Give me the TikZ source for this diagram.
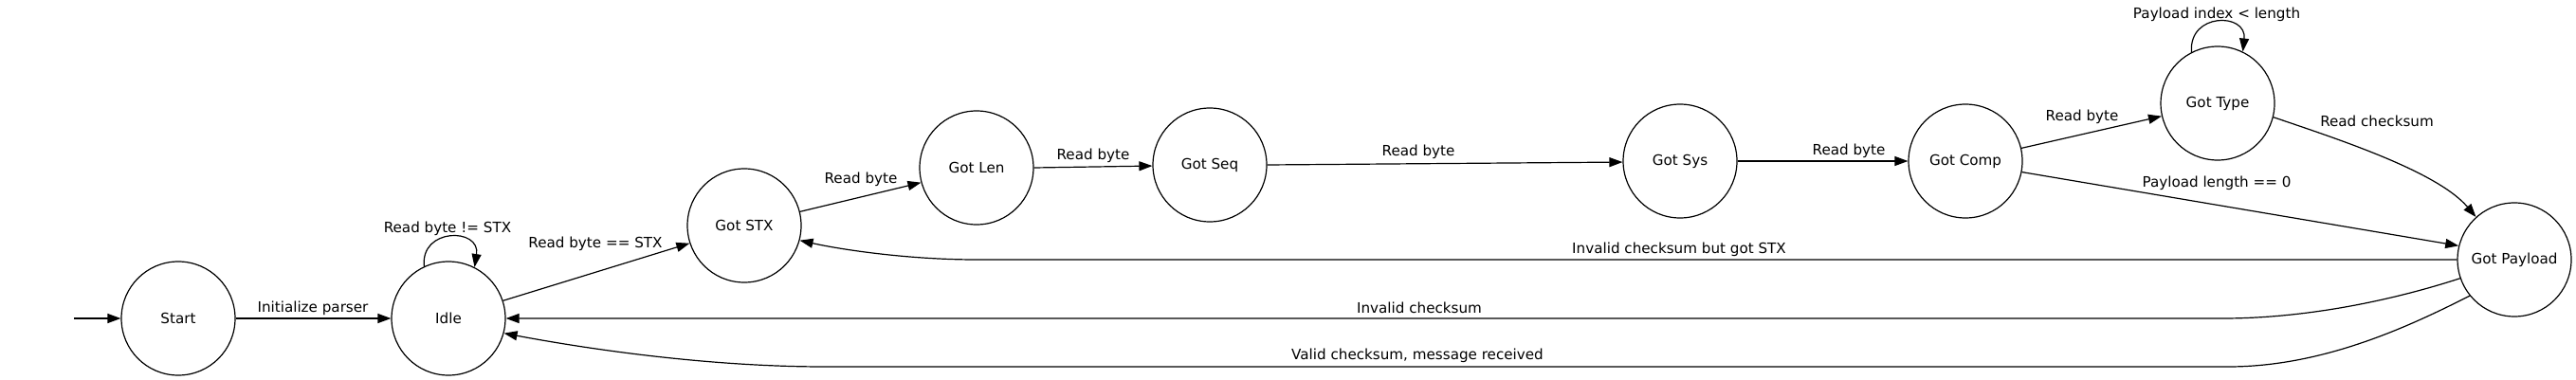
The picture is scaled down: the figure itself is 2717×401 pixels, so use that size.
\documentclass[tikz,border=0pt]{standalone}
\usepackage{fontspec}
\setmainfont{DejaVu Sans}
\usetikzlibrary{arrows.meta}
\begin{document}
\begin{tikzpicture}[x=0.5pt,y=-0.5pt,
  st/.style={draw, circle, minimum size=60pt, inner sep=0pt, line width=0.6pt, font=\fontsize{7.58}{9}\selectfont},
  lbl/.style={inner sep=0pt, font=\fontsize{7.58}{9}\selectfont},
  tr/.style={draw, line width=0.6pt, -{Triangle[length=7pt,width=5pt]}},
]
\useasboundingbox (0,0) rectangle (2717,401);
% states
\node[st] (Start) at (188,336) {Start};
\node[st] (Idle) at (473,336) {Idle};
\node[st] (STX) at (785,238) {Got STX};
\node[st] (Len) at (1030,177) {Got Len};
\node[st] (Seq) at (1276,174) {Got Seq};
\node[st] (Sys) at (1772,170) {Got Sys};
\node[st] (Comp) at (2073,170) {Got Comp};
\node[st] (Type) at (2339,109) {Got Type};
\node[st] (Pay) at (2652,274) {Got Payload};
\coordinate (init) at (78,336);
% edges
\draw[tr] (init) -- (Start);
\draw[tr] (Start) -- (Idle);
\node[lbl] (l1) at (330,325) {Initialize parser};
\draw[tr] (Idle.115) .. controls (443,240) and (507,240) .. (Idle.63);
\node[lbl] (l2) at (472,241) {Read byte != STX};
\draw[tr] (Idle.18) -- (STX.198);
\node[lbl] (l3) at (628,257) {Read byte == STX};
\draw[tr] (STX.14) -- (Len.195);
\node[lbl] (l4) at (908,189) {Read byte};
\draw[tr] (Len.east) -- (Seq.181);
\node[lbl] (l5) at (1153,164) {Read byte};
\draw[tr] (Seq.east) -- (Sys.181);
\node[lbl] (l6) at (1496,160) {Read byte};
\draw[tr] (Sys) -- (Comp);
\node[lbl] (l7) at (1950,159) {Read byte};
\draw[tr] (Comp.13) -- (Type.193);
\node[lbl] (l8) at (2196,123) {Read byte};
\draw[tr] (Comp.349.5) -- (Pay.166);
\node[lbl] (l9) at (2338,193) {Payload length == 0};
\draw[tr] (Type.117) .. controls (2308,13) and (2370,13) .. (Type.64);
\node[lbl] (l10) at (2338,15) {Payload index < length};
\draw[tr] (Type.346) .. controls (2460,145) and (2570,180) .. (Pay.132);
\node[lbl] (l11) at (2507,128) {Read checksum};
\draw[tr] (Pay.west) -- (1030,274) .. controls (960,274) and (890,264) .. (STX.345.5);
\node[lbl] (l12) at (1771,263) {Invalid checksum but got STX};
\draw[tr] (Pay.199) .. controls (2520,318) and (2430,336) .. (2344,336) -- (Idle.east);
\node[lbl] (l13) at (1497,325) {Invalid checksum};
\draw[tr] (Pay.219) .. controls (2540,345) and (2450,387) .. (2350,387) -- (870,387) .. controls (760,387) and (640,372) .. (Idle.345);
\node[lbl] (l14) at (1495,375) {Valid checksum, message received};
\end{tikzpicture}
\end{document}
